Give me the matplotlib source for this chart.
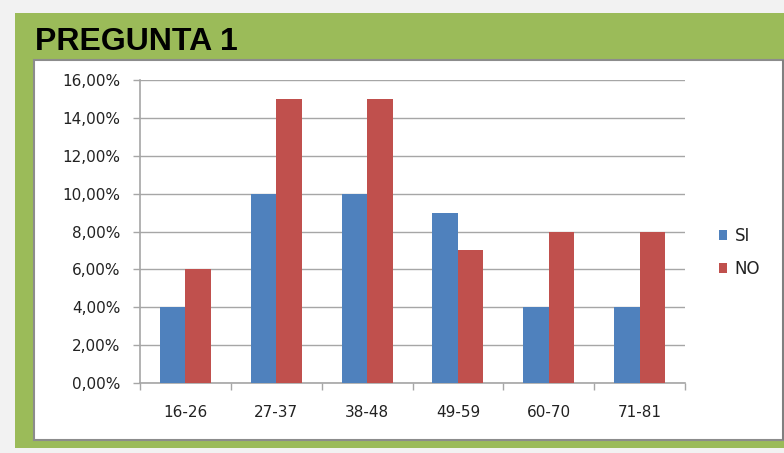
import matplotlib
matplotlib.use("Agg")
import matplotlib.pyplot as plt
from matplotlib.patches import Rectangle
from matplotlib.ticker import FuncFormatter, MultipleLocator
import numpy as np

# Age groups and response shares (percent)
categories = ["16-26", "27-37", "38-48", "49-59", "60-70", "71-81"]
si_values = [4, 10, 10, 9, 4, 4]
no_values = [6, 15, 15, 7, 8, 8]
series_labels = ["SI", "NO"]
title_text = "PREGUNTA 1"

W, H = 784, 453
fig = plt.figure(figsize=(W / 100, H / 100), dpi=100)
fig.patch.set_facecolor("#F2F2F2")


def px_rect(x0, y0, x1, y1, **kw):
    """Rectangle in pixel coordinates (origin top-left)."""
    return Rectangle((x0 / W, 1 - y1 / H), (x1 - x0) / W, (y1 - y0) / H,
                     transform=fig.transFigure, **kw)


# Green frame
fig.patches.append(px_rect(15, 13, 790, 447.5, facecolor="#9BBB59",
                           edgecolor="none", zorder=0))
# White chart panel with grey border
fig.patches.append(px_rect(34, 60, 783, 440, facecolor="white",
                           edgecolor="#8C8C8C", linewidth=1.5, zorder=1))
fig.patches.append(px_rect(781.5, 60, 784, 440, facecolor="#808080",
                           edgecolor="none", zorder=2))

fig.text(35 / W, 1 - 42 / H, title_text, fontsize=23, fontweight="bold",
         family="Liberation Sans", color="black", va="center", ha="left")

ax = fig.add_axes([140 / W, 1 - 383 / H, (685 - 140) / W, (383 - 80) / H])
ax.set_zorder(3)
ax.set_facecolor("white")

x = np.arange(len(categories))
bw = 0.28
ax.bar(x - bw / 2, si_values, bw, color="#4F81BD", label=series_labels[0], zorder=3)
ax.bar(x + bw / 2, no_values, bw, color="#C0504D", label=series_labels[1], zorder=3)

ax.set_xlim(-0.5, len(categories) - 0.5)
ax.set_ylim(0, 16)
ax.yaxis.set_major_locator(MultipleLocator(2))
ax.yaxis.set_major_formatter(FuncFormatter(lambda v, p: f"{v:.2f}%".replace(".", ",")))
ax.grid(axis="y", color="#A6A6A6", linewidth=1.0, zorder=0)
ax.set_axisbelow(True)

ax.set_xticks(x)
ax.set_xticklabels(categories)
ax.set_xticks(np.arange(-0.5, len(categories)), minor=True)
ax.tick_params(axis="x", which="major", length=0, pad=16)
ax.tick_params(axis="x", which="minor", length=5, color="#A6A6A6", width=1)
ax.tick_params(axis="y", length=5, color="#A6A6A6", width=1, pad=9)

for lbl in ax.get_xticklabels() + ax.get_yticklabels():
    lbl.set_family("DejaVu Sans")
    lbl.set_fontsize(11)
    lbl.set_color("#222222")

for side in ["top", "right"]:
    ax.spines[side].set_visible(False)
ax.spines["left"].set_color("#A6A6A6")
ax.spines["bottom"].set_color("#A6A6A6")
ax.spines["left"].set_linewidth(1.2)
ax.spines["bottom"].set_linewidth(1.2)

leg = fig.legend(loc="upper left", bbox_to_anchor=(704 / W, 1 - 212 / H),
                 frameon=False, handlelength=0.5, handleheight=0.5,
                 handletextpad=0.45, labelspacing=0.9,
                 prop={"family": "DejaVu Sans", "size": 12})
for t in leg.get_texts():
    t.set_color("#222222")

fig.savefig("out.png", dpi=100, facecolor=fig.get_facecolor())
